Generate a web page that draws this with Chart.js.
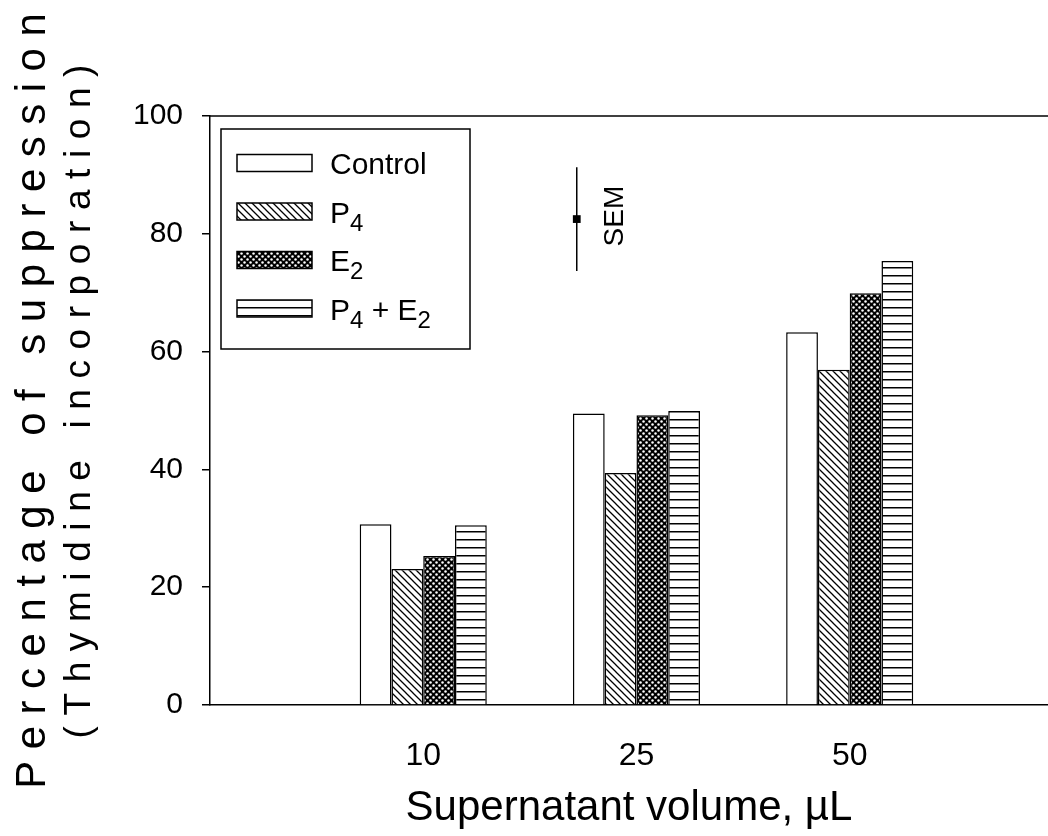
<!DOCTYPE html>
<html lang="en">
<head>
    <meta charset="UTF-8">
    <title>Percentage of suppression</title>
    <script src="https://cdn.jsdelivr.net/npm/chart.js@4.4.1/dist/chart.umd.min.js"></script>
    <style>
        body {
            margin: 0;
            overflow: hidden;
            background-color: #ffffff;
            font-family: 'Liberation Sans', Arial, sans-serif;
        }

        #container {
            position: relative;
            width: 1048px;
            height: 836px;
        }

        .ytitle {
            position: absolute;
            width: 820px;
            box-sizing: border-box;
            text-align: center;
            white-space: nowrap;
            transform: rotate(-90deg);
            color: #000;
        }

        #ytitle1 {
            left: -379.5px;
            top: 380px;
            height: 42px;
            font-size: 42px;
            line-height: 42px;
            letter-spacing: 11.5px;
            padding-left: 11.5px;
        }

        #ytitle2 {
            left: -333.3px;
            top: 382.5px;
            height: 37px;
            font-size: 37px;
            line-height: 37px;
            letter-spacing: 10.6px;
            padding-left: 10.6px;
        }
    </style>
</head>
<body>
    <div id="container">
        <canvas id="suppressionChart"></canvas>
        <div id="ytitle1" class="ytitle">Percentage of suppression</div>
        <div id="ytitle2" class="ytitle">(Thymidine incorporation)</div>
    </div>

    <script>
        // values
        const volumes = ['10', '25', '50'];
        const seriesNames = ['Control', 'P₄', 'E₂', 'P₄ + E₂'];
        const control = [30.7, 49.5, 63.3];
        const p4 = [23.1, 39.4, 56.9];
        const e2 = [25.3, 49.2, 69.9];
        const p4e2 = [30.5, 49.9, 75.4];
        const yTicks = [0, 20, 40, 60, 80, 100];

        // the SEM marker sits between the 10 and 25 groups
        const semPosition = 1.72;
        const semMean = 82.5;
        const semValue = 8.8;

        Chart.defaults.font.family = "'Liberation Sans', Arial, sans-serif";
        Chart.defaults.color = '#000';

        function makePattern(w, h, paint) {
            const c = document.createElement('canvas');
            c.width = w;
            c.height = h;
            const p = c.getContext('2d');
            paint(p, w, h);
            return p.createPattern(c, 'repeat');
        }

        const ctx = document.getElementById('suppressionChart').getContext('2d');

        const diagonal = makePattern(7, 7, (p, w, h) => {
            p.fillStyle = '#fff';
            p.fillRect(0, 0, w, h);
            p.strokeStyle = '#000';
            p.lineWidth = 1.3;
            p.beginPath();
            p.moveTo(-1, -1); p.lineTo(w + 1, h + 1);
            p.moveTo(-1, h - 1); p.lineTo(1, h + 1);
            p.moveTo(w - 1, -1); p.lineTo(w + 1, 1);
            p.stroke();
        });

        const dotted = makePattern(6, 6, (p, w, h) => {
            p.fillStyle = '#000';
            p.fillRect(0, 0, w, h);
            p.fillStyle = '#fff';
            [[1.5, 1.5], [4.5, 4.5]].forEach(([x, y]) => {
                p.beginPath();
                p.arc(x, y, 1.25, 0, Math.PI * 2);
                p.fill();
            });
        });

        const horizontal = makePattern(4, 8, (p, w, h) => {
            p.fillStyle = '#fff';
            p.fillRect(0, 0, w, h);
            p.fillStyle = '#000';
            p.fillRect(0, 3, w, 1.5);
        });

        const fills = ['#ffffff', diagonal, dotted, horizontal];
        const seriesValues = [control, p4, e2, p4e2];

        const subDigits = { '₂': '2', '₄': '4' };

        const legendBox = {
            id: 'legendBox',
            afterDraw(chart) {
                const c = chart.ctx;
                const area = chart.chartArea;
                const x0 = area.left + 11;
                const y0 = area.top + 13;
                c.save();
                c.strokeStyle = '#000';
                c.lineWidth = 1.5;

                // top frame line
                c.beginPath();
                c.moveTo(area.left, area.top);
                c.lineTo(area.right, area.top);
                c.stroke();

                c.strokeRect(x0, y0, 249, 220);

                seriesNames.forEach((name, i) => {
                    const cy = y0 + 34 + i * 48.5;
                    c.fillStyle = chart.data.datasets[i].backgroundColor;
                    c.fillRect(x0 + 16, cy - 8.5, 75, 17);
                    c.strokeRect(x0 + 16, cy - 8.5, 75, 17);

                    let tx = x0 + 109;
                    c.fillStyle = '#000';
                    c.textBaseline = 'alphabetic';
                    c.textAlign = 'left';
                    for (const ch of name) {
                        if (subDigits[ch]) {
                            c.font = "24px 'Liberation Sans', Arial, sans-serif";
                            c.fillText(subDigits[ch], tx, cy + 19);
                            tx += c.measureText(subDigits[ch]).width;
                        } else {
                            c.font = "30px 'Liberation Sans', Arial, sans-serif";
                            c.fillText(ch, tx, cy + 11);
                            tx += c.measureText(ch).width;
                        }
                    }
                });

                // SEM label beside the error bar
                const sx = chart.scales.x.getPixelForValue(semPosition);
                const sy = chart.scales.y.getPixelForValue(semMean);
                c.translate(sx + 46, sy - 3);
                c.rotate(-Math.PI / 2);
                c.font = "28px 'Liberation Sans', Arial, sans-serif";
                c.textAlign = 'center';
                c.fillText('SEM', 0, 0);
                c.restore();
            }
        };

        const datasets = seriesNames.map((name, i) => ({
            label: name,
            data: seriesValues[i].map((v, j) => ({ x: j + 1, y: v })),
            backgroundColor: fills[i],
            borderColor: '#000',
            borderWidth: 1.5,
            categoryPercentage: 0.596,
            barPercentage: 1
        }));

        datasets.push({
            type: 'line',
            label: 'SEM',
            data: [
                { x: semPosition, y: semMean - semValue },
                { x: semPosition, y: semMean },
                { x: semPosition, y: semMean + semValue }
            ],
            borderColor: '#000',
            backgroundColor: '#000',
            borderWidth: 1.5,
            pointStyle: 'rect',
            pointRadius: [0, 5.5, 0],
            pointBorderWidth: 0
        });

        new Chart(ctx, {
            type: 'bar',
            data: { datasets: datasets },
            options: {
                responsive: true,
                maintainAspectRatio: false,
                animation: false,
                layout: {
                    padding: { top: 116, right: 0, bottom: 0, left: 0 }
                },
                plugins: {
                    legend: { display: false },
                    tooltip: { enabled: false }
                },
                scales: {
                    x: {
                        type: 'linear',
                        offset: false,
                        min: 0,
                        max: 3.93,
                        afterBuildTicks: (scale) => {
                            scale.ticks = volumes.map((v, i) => ({ value: i + 1 }));
                        },
                        afterFit: (scale) => { scale.height = 131; },
                        grid: { display: false },
                        border: { display: true, color: '#000', width: 1.5 },
                        ticks: {
                            padding: 24,
                            font: { size: 32 },
                            callback: (value) => volumes[value - 1]
                        },
                        title: {
                            display: true,
                            text: 'Supernatant volume, µL',
                            font: { size: 42 },
                            padding: { top: 0, bottom: 2 }
                        }
                    },
                    y: {
                        min: 0,
                        max: 100,
                        afterBuildTicks: (scale) => {
                            scale.ticks = yTicks.map(v => ({ value: v }));
                        },
                        afterFit: (scale) => { scale.width = 210; },
                        grid: {
                            drawOnChartArea: false,
                            drawTicks: true,
                            tickLength: 8,
                            color: '#000',
                            lineWidth: 1.5
                        },
                        border: { display: true, color: '#000', width: 1.5 },
                        ticks: {
                            padding: 19,
                            font: { size: 30 }
                        }
                    }
                }
            },
            plugins: [legendBox]
        });
    </script>
</body>
</html>
